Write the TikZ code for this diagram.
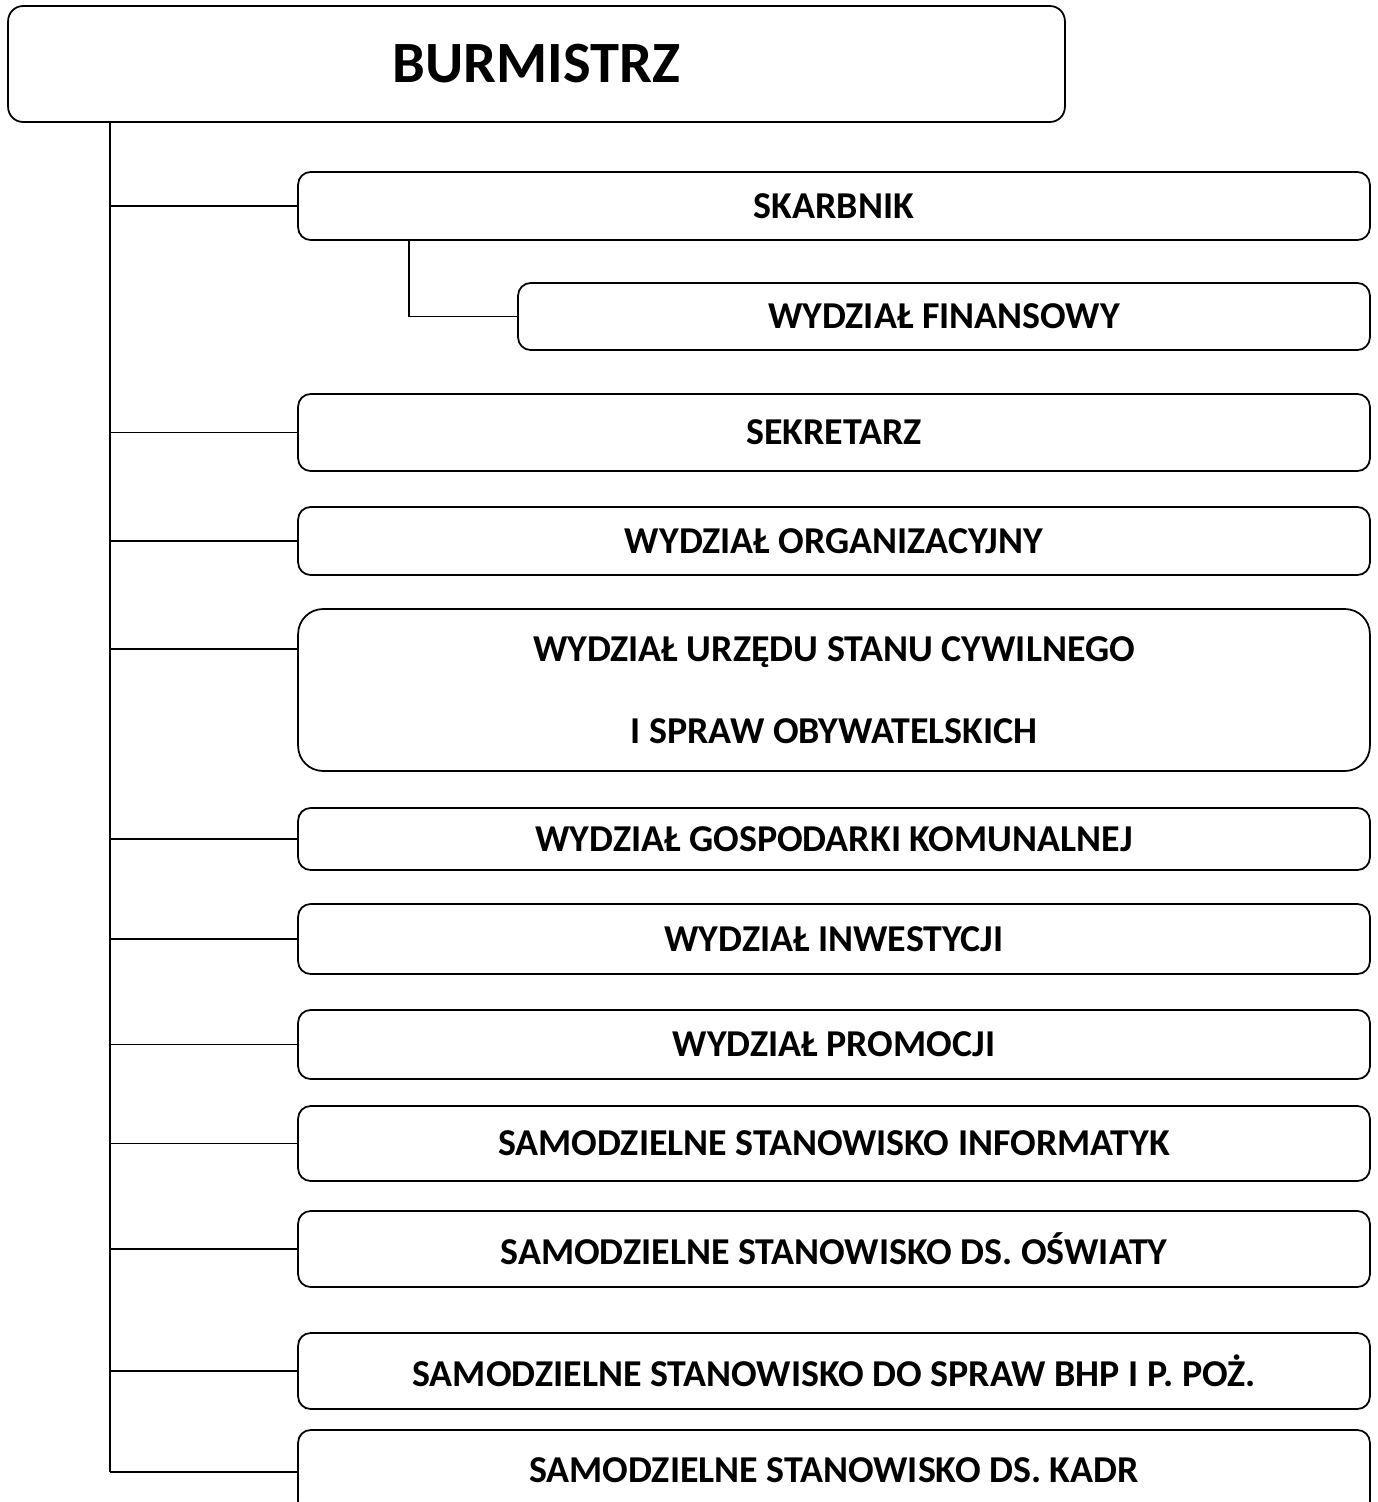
\documentclass[tikz,border=0pt]{standalone}
\usepackage{fontspec}
\setmainfont{Carlito}
\usepackage{tikz}
\usetikzlibrary{positioning, calc}

\begin{document}
\begin{tikzpicture}[x=0.02cm, y=-0.02cm,
    unit/.style={draw, line width=1pt, rounded corners=0.25cm, inner sep=0pt, outer sep=0pt,
      minimum width=21.44cm, font=\fontsize{21.6}{26}\selectfont\bfseries},
    link/.style={line width=0.9pt}]
  \useasboundingbox (0,0) rectangle (1377,1502);
  \begin{scope}
  \clip (0,0) rectangle (1377,1502);
  \node[unit, rounded corners=0.3cm, minimum width=21.14cm, minimum height=2.32cm,
    font=\fontsize{33.3}{40}\selectfont\bfseries] (burmistrz) at (536.5,64) {BURMISTRZ};
  \node[unit, minimum height=1.36cm] (skarbnik) at (834,206) {\raisebox{-3pt}{SKARBNIK}};
  \node[unit, minimum width=17.04cm, minimum height=1.34cm] (finanse) at (944,316.5) {WYDZIAŁ FINANSOWY};
  \node[unit, minimum height=1.54cm] (sekretarz) at (834,432.5) {SEKRETARZ};
  \node[unit, minimum height=1.36cm] (organiz) at (834,541) {WYDZIAŁ ORGANIZACYJNY};
  \node[unit, rounded corners=0.5cm, minimum height=3.24cm, align=center] (usc) at (834,690)
    {WYDZIAŁ URZĘDU STANU CYWILNEGO\\[0.72cm] I SPRAW OBYWATELSKICH};
  \node[unit, minimum height=1.24cm] (komunal) at (834,839) {\raisebox{-3pt}{WYDZIAŁ GOSPODARKI KOMUNALNEJ}};
  \node[unit, minimum height=1.4cm] (inwest) at (834,939) {WYDZIAŁ INWESTYCJI};
  \node[unit, minimum height=1.38cm] (promocja) at (834,1044.5) {WYDZIAŁ PROMOCJI};
  \node[unit, minimum height=1.5cm] (informatyk) at (834,1143.5) {SAMODZIELNE STANOWISKO INFORMATYK};
  \node[unit, minimum height=1.52cm] (oswiata) at (834,1249) {SAMODZIELNE STANOWISKO DS. OŚWIATY};
  \node[unit, minimum height=1.52cm] (bhp) at (834,1371) {SAMODZIELNE STANOWISKO DO SPRAW BHP I P. POŻ.};
  \node[unit, minimum height=1.68cm] (kadry) at (834,1472) {\raisebox{2pt}{SAMODZIELNE STANOWISKO DS. KADR}};
  \end{scope}

  % trunk from the top box
  \coordinate (trunk) at (110,122);
  \draw[link] (trunk) -- (trunk |- kadry.west);
  \foreach \n in {skarbnik, sekretarz, organiz, komunal, inwest, promocja, informatyk, oswiata, bhp, kadry}
    \draw[link] (trunk |- \n.west) -- (\n.west);
  \draw[link] (trunk |- usc.west) ++(0,-41) coordinate (uscarm) -- ([yshift=0.82cm]usc.west);
  % skarbnik -> finanse
  \coordinate (skarb) at (409,240);
  \draw[link] (skarb) |- (finanse.west);
\end{tikzpicture}
\end{document}
